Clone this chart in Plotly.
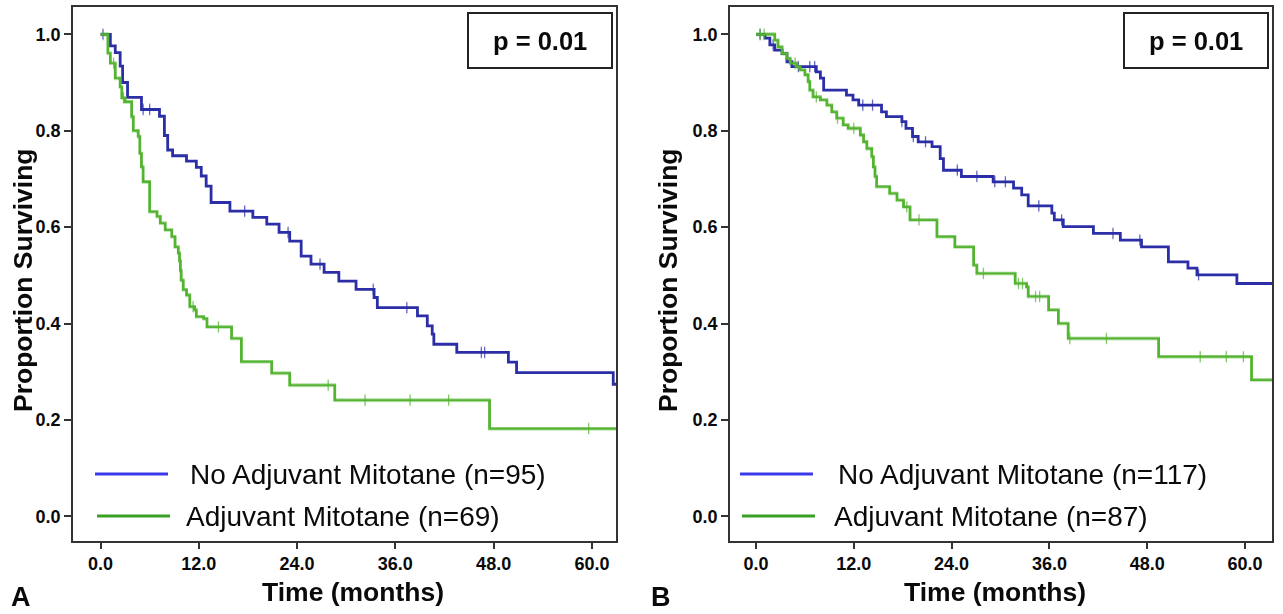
import numpy as np
import plotly.graph_objects as go

# ---------------- data ----------------
# Panel A
a_no_times = [0, 1.2, 1.8, 2.4, 2.7, 3.3, 5.0, 7.2, 7.8, 8.2, 8.8, 10.5, 11.7, 12.3, 12.9, 13.5,
              15.8, 18.6, 20.3, 21.8, 23.1, 24.5, 25.7, 27.3, 29.1, 31.2, 33.4, 33.8, 38.7, 39.9,
              40.5, 40.7, 43.5, 49.8, 50.8, 62.6]
a_no_surv = [1.0, 0.976, 0.962, 0.934, 0.90, 0.869, 0.844, 0.83, 0.79, 0.76, 0.748, 0.737, 0.724,
             0.706, 0.685, 0.651, 0.633, 0.62, 0.606, 0.589, 0.571, 0.54, 0.523, 0.506, 0.488,
             0.471, 0.454, 0.433, 0.416, 0.395, 0.378, 0.357, 0.34, 0.32, 0.298, 0.274]
a_no_censor = [0.3, 5.2, 6.0, 17.6, 22.9, 26.8, 33.3, 37.4, 46.5, 46.9]

a_adj_times = [0, 0.9, 1.2, 1.8, 2.4, 2.6, 3.0, 3.8, 4.0, 4.6, 4.8, 5.0, 5.2, 6.0, 6.9, 7.3, 7.9,
               8.7, 9.1, 9.5, 9.65, 9.75, 9.85, 10.1, 10.5, 10.9, 11.5, 11.7, 12.6, 13.0, 16.0,
               17.2, 20.9, 23.1, 28.6, 47.5]
a_adj_surv = [1.0, 0.961, 0.94, 0.909, 0.891, 0.868, 0.86, 0.829, 0.80, 0.788, 0.753, 0.725, 0.694,
              0.632, 0.622, 0.608, 0.594, 0.58, 0.559, 0.546, 0.53, 0.51, 0.49, 0.47, 0.459, 0.435,
              0.428, 0.414, 0.41, 0.393, 0.369, 0.321, 0.297, 0.272, 0.241, 0.182]
a_adj_censor = [1.6, 2.8, 11.3, 14.4, 27.8, 32.3, 37.8, 42.5, 59.6]

# Panel B
b_no_times = [0, 1.1, 1.7, 2.3, 3.2, 3.8, 4.4, 7.4, 7.9, 8.3, 11.1, 11.9, 12.6, 15.4, 16.0, 17.9,
              18.4, 19.2, 19.9, 21.6, 22.6, 23.0, 25.2, 29.1, 31.6, 32.6, 33.4, 36.3, 36.6, 37.7,
              41.4, 44.7, 47.3, 50.6, 53.0, 54.1, 59.0]
b_no_surv = [1.0, 0.992, 0.978, 0.967, 0.96, 0.943, 0.933, 0.922, 0.909, 0.884, 0.874, 0.864,
             0.853, 0.839, 0.829, 0.819, 0.805, 0.788, 0.777, 0.767, 0.742, 0.718, 0.705, 0.694,
             0.681, 0.667, 0.644, 0.629, 0.615, 0.601, 0.587, 0.573, 0.559, 0.528, 0.515, 0.501,
             0.483]
b_no_censor = [0.5, 2.1, 5.2, 6.6, 7.2, 13.1, 14.3, 17.9, 19.3, 20.8, 24.7, 27.1, 29.3, 30.6,
               34.7, 37.5, 43.8, 47.1, 54.3]

b_adj_times = [0, 2.3, 2.7, 3.2, 3.8, 4.2, 5.0, 5.4, 6.0, 6.4, 6.6, 7.0, 7.9, 8.7, 9.3, 9.9, 10.7,
               11.3, 12.8, 13.2, 13.6, 14.2, 14.4, 14.6, 14.8, 16.4, 17.3, 18.1, 18.9, 22.2, 24.4,
               26.7, 27.1, 31.8, 33.2, 33.4, 35.9, 37.1, 38.3, 49.4, 60.8]
b_adj_surv = [1.0, 0.988, 0.974, 0.96, 0.95, 0.94, 0.933, 0.926, 0.916, 0.902, 0.884, 0.87, 0.864,
              0.853, 0.839, 0.826, 0.812, 0.805, 0.791, 0.777, 0.763, 0.746, 0.725, 0.705, 0.684,
              0.67, 0.656, 0.642, 0.615, 0.58, 0.559, 0.521, 0.504, 0.483, 0.476, 0.456, 0.428,
              0.40, 0.369, 0.331, 0.283]
b_adj_censor = [0.5, 1.0, 4.8, 7.4, 10.0, 12.0, 18.5, 20.0, 27.9, 32.2, 32.7, 34.3, 34.8, 38.5,
                43.0, 54.5, 57.7, 59.8]

legend_a = ["No Adjuvant Mitotane (n=95)", "Adjuvant Mitotane (n=69)"]
legend_b = ["No Adjuvant Mitotane (n=117)", "Adjuvant Mitotane (n=87)"]
p_text = ["p = 0.01", "p = 0.01"]
panel_letters = ["A", "B"]
x_ticks = [0, 12, 24, 36, 48, 60]
x_ticklabels = ["0.0", "12.0", "24.0", "36.0", "48.0", "60.0"]
y_ticks = [0.0, 0.2, 0.4, 0.6, 0.8, 1.0]
y_ticklabels = ["0.0", "0.2", "0.4", "0.6", "0.8", "1.0"]

# ---------------- styling ----------------
W, H = 1283, 614
BLUE = "#2b2ea6"
GREEN = "#54b432"
BLUE_LEG = "#3a3aea"
GREEN_LEG = "#38a024"
FONT = "Liberation Sans, Arial, sans-serif"
AXC = "#333333"
TXT = "#0a0a0a"

def px(xp):
    return xp / W

def py(yp):
    return 1 - yp / H

fig = go.Figure()

def add_series(times, surv, censor, xend, color, xa, ya, name):
    t = list(times) + [xend]
    s = list(surv) + [surv[-1]]
    fig.add_trace(go.Scatter(x=t, y=s, mode="lines", line=dict(color=color, width=2.8, shape="hv"),
                             xaxis=xa, yaxis=ya, name=name, showlegend=False, hoverinfo="skip"))
    tt = np.array(times)
    ss = np.array(surv)
    idx = np.searchsorted(tt, np.array(censor), side="right") - 1
    fig.add_trace(go.Scatter(x=censor, y=ss[idx], mode="markers",
                             marker=dict(symbol="line-ns-open", size=8, color=color,
                                         line=dict(color=color, width=1.3)),
                             opacity=0.75, xaxis=xa, yaxis=ya, showlegend=False, hoverinfo="skip"))

xr_a = [-3.36, 62.94]
xr_b = [-3.19, 63.31]
add_series(a_no_times, a_no_surv, a_no_censor, xr_a[1], BLUE, "x", "y", legend_a[0])
add_series(a_adj_times, a_adj_surv, a_adj_censor, xr_a[1], GREEN, "x", "y", legend_a[1])
add_series(b_no_times, b_no_surv, b_no_censor, xr_b[1], BLUE, "x2", "y2", legend_b[0])
add_series(b_adj_times, b_adj_surv, b_adj_censor, xr_b[1], GREEN, "x2", "y2", legend_b[1])

ydom = [py(541), py(7.3)]
yr = [-0.0512, 1.056]
tickfont = dict(family=FONT, size=18, color=TXT, weight="bold")

def xaxis(dom, rng, anchor):
    return dict(domain=dom, range=rng, anchor=anchor, tickvals=x_ticks, ticktext=x_ticklabels,
                ticks="outside", ticklen=6, tickwidth=1.5, tickcolor=AXC, showline=True,
                linecolor=AXC, linewidth=1.6, mirror=True, showgrid=False, zeroline=False,
                tickfont=tickfont, fixedrange=True)

def yaxis(anchor):
    return dict(domain=ydom, range=yr, anchor=anchor, tickvals=y_ticks, ticktext=y_ticklabels,
                ticks="outside", ticklen=7, tickwidth=1.5, tickcolor=AXC, showline=True,
                linecolor=AXC, linewidth=1.6, mirror=True, showgrid=False, zeroline=False,
                tickfont=tickfont, fixedrange=True)

fig.update_layout(
    width=W, height=H, margin=dict(l=0, r=0, t=0, b=0),
    paper_bgcolor="white", plot_bgcolor="white", showlegend=False,
    xaxis=xaxis([px(73), px(616)], xr_a, "y"),
    yaxis=yaxis("x"),
    xaxis2=xaxis([px(730), px(1272)], xr_b, "y2"),
    yaxis2=yaxis("x2"),
    font=dict(family=FONT, color=TXT),
)

ann = []
shapes = []
panels = [
    dict(legend=legend_a, ylab_x=23, xlab_x=353, letter_x=21,
         pbox=(468, 612), leg_line=[(95, 168), (97, 170)], leg_text=[188, 184]),
    dict(legend=legend_b, ylab_x=668, xlab_x=995, letter_x=661,
         pbox=(1124, 1268), leg_line=[(740, 813), (742, 815)], leg_text=[836, 832]),
]
for i, p in enumerate(panels):
    ann.append(dict(x=px(p["ylab_x"]), y=py(280), xref="paper", yref="paper",
                    text="<b>Proportion Surviving</b>", textangle=-90, showarrow=False,
                    xanchor="center", yanchor="middle",
                    font=dict(size=26.5, family=FONT, color=TXT)))
    ann.append(dict(x=px(p["xlab_x"]), y=py(592), xref="paper", yref="paper",
                    text="<b>Time (months)</b>", showarrow=False, xanchor="center", yanchor="middle",
                    font=dict(size=26.5, family=FONT, color=TXT)))
    ann.append(dict(x=px(p["letter_x"]), y=py(597), xref="paper", yref="paper",
                    text="<b>%s</b>" % panel_letters[i], showarrow=False, xanchor="center",
                    yanchor="middle", font=dict(size=27, family=FONT, color=TXT)))
    x0, x1 = p["pbox"]
    shapes.append(dict(type="rect", xref="paper", yref="paper", x0=px(x0), x1=px(x1), y0=py(68), y1=py(13),
                       line=dict(color="#222222", width=2), fillcolor="white"))
    ann.append(dict(x=px((x0 + x1) / 2), y=py(41), xref="paper", yref="paper",
                    text="<b>%s</b>" % p_text[i], showarrow=False, xanchor="center", yanchor="middle",
                    font=dict(size=25.5, family=FONT, color=TXT)))
    for j, (col, yy) in enumerate([(BLUE_LEG, 474), (GREEN_LEG, 516)]):
        lx0, lx1 = p["leg_line"][j]
        shapes.append(dict(type="line", xref="paper", yref="paper", x0=px(lx0), x1=px(lx1), y0=py(yy), y1=py(yy),
                           line=dict(color=col, width=3)))
        ann.append(dict(x=px(p["leg_text"][j]), y=py(yy), xref="paper", yref="paper", text=p["legend"][j],
                        xanchor="left", yanchor="middle", showarrow=False,
                        font=dict(size=28, family=FONT, color=TXT)))

fig.update_layout(annotations=ann, shapes=shapes)
fig.write_html("out.html", config={"displayModeBar": False},
               post_script="document.body.style.margin='0';document.body.style.overflow='hidden';")
